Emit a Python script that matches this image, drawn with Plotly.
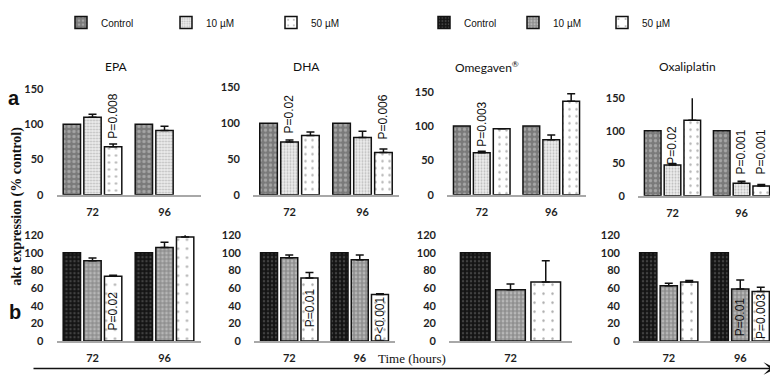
import plotly.graph_objects as go

# page body has an 8px margin: figure is sized to the visible area
OFF = 8
W, H = 778 - OFF, 380 - OFF


def px2x(px):
    return (px - OFF) / W


def px2y(py):
    return 1 - (py - OFF) / H


# ---------------- data ----------------
times_two = ["72", "96"]
times_one = ["72"]
series_names = ["Control", "10 \u00b5M", "50 \u00b5M"]
panel_titles = ["EPA", "DHA", "Omegaven<sup>\u00ae</sup>", "Oxaliplatin"]

# row a : values per series [Control, 10 uM, 50 uM] at [72 h, 96 h]
a_epa_vals = [[100, 100], [110, 91], [68, None]]
a_epa_errs = [[0, 0], [4, 6], [4, 0]]
a_dha_vals = [[100, 100], [74, 80], [83, 59]]
a_dha_errs = [[0, 0], [2.5, 9], [5, 5]]
a_omega_vals = [[100, 100], [61, 80], [96, 136]]
a_omega_errs = [[0, 0], [2.5, 7], [0, 11]]
a_oxali_vals = [[100, 100], [47, 19], [116, 15]]
a_oxali_errs = [[0, 0], [2, 3], [44, 2]]

# row b
b_epa_vals = [[100, 100], [91, 106], [73.5, 118]]
b_epa_errs = [[0, 0], [3, 6], [1, 3]]
b_dha_vals = [[100, 100], [94.5, 92], [71.5, 52.6]]
b_dha_errs = [[0, 0], [3, 5.5], [6, 1]]
b_omega_vals = [[100], [58], [67]]
b_omega_errs = [[0], [6.5], [24]]
b_oxali_vals = [[100, 100], [62.5, 59], [67, 56]]
b_oxali_errs = [[0, 0], [3, 10], [1.5, 5]]

row_a_ticks = [0, 50, 100, 150]
row_b_ticks = [0, 20, 40, 60, 80, 100, 120]

# P-value labels: panel (1..8), time index, series index, text, y (data units)
p_panel = [1, 2, 2, 3, 4, 4, 4, 5, 6, 6, 8, 8]
p_time = [0, 0, 1, 0, 0, 1, 1, 0, 0, 1, 1, 1]
p_series = [2, 1, 2, 1, 1, 1, 2, 2, 2, 2, 1, 2]
p_text = ["P=0.008", "P=0.02", "P=0.006", "P=0.003", "P=0.02", "P=0.001",
          "P=0.001", "P=0.02", "P=0.01", "P<0.001", "P=0.01", "P=0.003"]
p_y = [111, 113, 108.6, 103, 77.6, 67, 67, 33.5, 37.7, 25, 27, 28]

# ---------------- styling ----------------
top_styles = [
    dict(bg="#7a7a7a", fg="#d0d0d0", size=5, solidity=0.35),
    dict(bg="#ececec", fg="#8a8a8a", size=3, solidity=0.35),
    dict(bg="#ffffff", fg="#6a6a6a", size=7, solidity=0.1),
]
bottom_styles = [
    dict(bg="#141414", fg="#6e6e6e", size=4, solidity=0.3),
    dict(bg="#8f8f8f", fg="#e0e0e0", size=4, solidity=0.4),
    dict(bg="#ffffff", fg="#5a5a5a", size=9, solidity=0.06),
]

# domains in reference pixels: (x0, x1, y_top, y_bottom)
dom_px = [
    (56.5, 200.5, 70, 185),
    (253, 399, 68.5, 185),
    (447, 586, 73, 185),
    (638, 776, 80, 186),
    (56.5, 200.5, 229, 344),
    (254, 395, 229, 344),
    (449, 572, 229, 344),
    (633, 776, 229, 344),
]

BARGAP = 0.14
BARGROUPGAP = 0.16

panel_data = [
    (a_epa_vals, a_epa_errs, times_two),
    (a_dha_vals, a_dha_errs, times_two),
    (a_omega_vals, a_omega_errs, times_two),
    (a_oxali_vals, a_oxali_errs, times_two),
    (b_epa_vals, b_epa_errs, times_two),
    (b_dha_vals, b_dha_errs, times_two),
    (b_omega_vals, b_omega_errs, times_one),
    (b_oxali_vals, b_oxali_errs, times_two),
]

tick_font = dict(family="Lato", size=11, color="#1e1e1e", weight="bold")

fig = go.Figure()
layout = dict(
    width=W, height=H, margin=dict(l=0, r=0, t=0, b=0),
    paper_bgcolor="white", plot_bgcolor="white",
    barmode="group", bargap=BARGAP, bargroupgap=BARGROUPGAP,
    font=dict(family="Liberation Sans", color="#111"),
)

for k, (vals, errs, cats) in enumerate(panel_data, start=1):
    top = k <= 4
    styles = top_styles if top else bottom_styles
    xa = "x" if k == 1 else f"x{k}"
    ya = "y" if k == 1 else f"y{k}"
    for s in range(3):
        st = styles[s]
        fig.add_trace(go.Bar(
            x=cats, y=vals[s], name=series_names[s],
            xaxis=xa, yaxis=ya,
            marker=dict(color=st["bg"], line=dict(color="#111", width=1.5),
                        pattern=dict(shape=".", fgcolor=st["fg"], size=st["size"],
                                     solidity=st["solidity"], fillmode="overlay")),
            error_y=dict(type="data", array=errs[s], arrayminus=[0] * len(cats),
                         symmetric=False, color="#111", thickness=1.5, width=4,
                         visible=(s != 0)),
            showlegend=(k in (1, 5)),
            legend="legend" if top else "legend2",
        ))
    x0, x1, yt, yb = dom_px[k - 1]
    layout["xaxis" if k == 1 else f"xaxis{k}"] = dict(
        domain=[px2x(x0), min(px2x(x1), 1.0)], anchor=ya, type="category",
        showline=True, linecolor="#a8a8a8", linewidth=2, showgrid=False,
        zeroline=False, ticks="", tickfont=tick_font, ticklabelstandoff=6,
        range=[-0.5, len(cats) - 0.5], fixedrange=True,
    )
    layout["yaxis" if k == 1 else f"yaxis{k}"] = dict(
        domain=[px2y(yb), px2y(yt)], anchor=xa,
        range=[0, 150] if top else [0, 120],
        tickvals=row_a_ticks if top else row_b_ticks,
        showline=False, showgrid=False, zeroline=False, ticks="",
        tickfont=tick_font, ticklabelstandoff=12, fixedrange=True,
    )

annotations = []
slot = (1 - BARGAP) / 3
for pn, ti, si, tx, yv in zip(p_panel, p_time, p_series, p_text, p_y):
    annotations.append(dict(
        x=ti + (si - 1) * slot, y=yv,
        xref="x" if pn == 1 else f"x{pn}", yref="y" if pn == 1 else f"y{pn}",
        text=tx, textangle=-90, showarrow=False, xanchor="center", yanchor="middle",
        font=dict(family="Liberation Sans", size=12, color="#111"),
    ))

title_px = [(116, 46), (306, 46), (487, 46), (687, 46)]
for t, (px, py) in zip(panel_titles, title_px):
    annotations.append(dict(x=px2x(px), y=px2y(py), xref="paper", yref="paper",
                            text=t, showarrow=False, xanchor="center", yanchor="middle",
                            font=dict(family="Lato", size=12, color="#111")))

# panel letters
annotations.append(dict(x=px2x(14), y=px2y(80), xref="paper", yref="paper", text="<b>a</b>",
                        showarrow=False, xanchor="center", yanchor="middle",
                        font=dict(family="Liberation Sans", size=20, color="#111")))
annotations.append(dict(x=px2x(15), y=px2y(313), xref="paper", yref="paper", text="<b>b</b>",
                        showarrow=False, xanchor="center", yanchor="middle",
                        font=dict(family="Liberation Sans", size=20, color="#111")))
# y title
annotations.append(dict(x=px2x(17), y=px2y(198), xref="paper", yref="paper",
                        text="<b>akt expression (% control)</b>", textangle=-90, showarrow=False,
                        xanchor="center", yanchor="middle",
                        font=dict(family="Liberation Serif", size=14, color="#111")))
# x title
annotations.append(dict(x=px2x(412), y=px2y(363), xref="paper", yref="paper",
                        text="Time (hours)", showarrow=False, xanchor="center", yanchor="middle",
                        font=dict(family="Liberation Serif", size=13, color="#111")))
# arrow
annotations.append(dict(x=px2x(776), y=px2y(374), xref="paper", yref="paper", text="",
                        showarrow=True, ax=-744, ay=0, axref="pixel", ayref="pixel",
                        arrowhead=3, arrowsize=1.3, arrowwidth=1.6, arrowcolor="#111"))

layout["annotations"] = annotations
layout["legend"] = dict(orientation="h", x=53 / W, y=1 + 26 / H, xanchor="left", yanchor="top",
                        entrywidth=60, entrywidthmode="pixels", itemwidth=30,
                        font=dict(family="Liberation Sans", size=10, color="#111"),
                        bgcolor="rgba(0,0,0,0)", traceorder="normal")
layout["legend2"] = dict(orientation="h", x=416 / W, y=1 + 26 / H, xanchor="left", yanchor="top",
                         entrywidth=44, entrywidthmode="pixels", itemwidth=30,
                         font=dict(family="Liberation Sans", size=10, color="#111"),
                         bgcolor="rgba(0,0,0,0)", traceorder="normal")

fig.update_layout(**layout)
fig.write_html("out.html")
